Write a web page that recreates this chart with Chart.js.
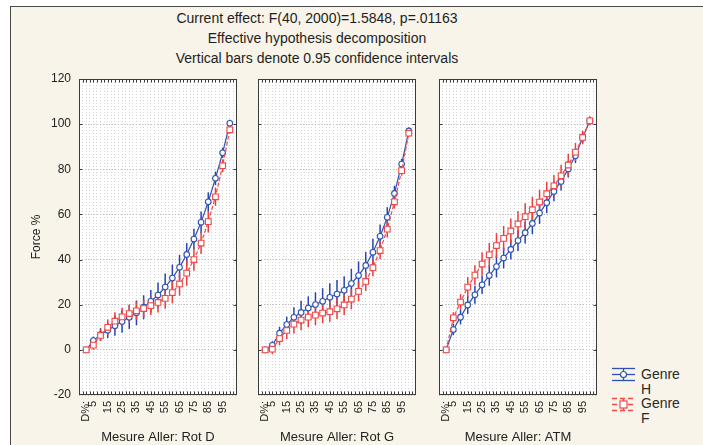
<!DOCTYPE html>
<html>
<head>
<meta charset="utf-8">
<script src="https://cdn.jsdelivr.net/npm/chart.js@4.4.0/dist/chart.umd.min.js"></script>
<style>
html,body{margin:0;padding:0;background:#fff;}
#wrap{position:relative;width:703px;height:445px;overflow:hidden;background:#fff;}
#frame{position:absolute;left:10px;top:6px;width:720px;height:460px;border-left:1px solid #4a4a4a;border-top:1px solid #4a4a4a;background:#f8f4e9;}
.ttl{position:absolute;left:117px;width:400px;text-align:center;font:14px 'Liberation Sans',Arial,sans-serif;color:#1e1e1e;white-space:nowrap;}
canvas{position:absolute;}
.lg{position:absolute;font:14px 'Liberation Sans',Arial,sans-serif;color:#2a2a2a;line-height:15px;white-space:nowrap;}
svg{position:absolute;}
</style>
</head>
<body>
<div id="wrap">
  <div id="frame"></div>
  <div class="ttl" id="t1" style="top:10px"></div>
  <div class="ttl" id="t2" style="top:30px"></div>
  <div class="ttl" id="t3" style="top:50px"></div>
  <canvas id="c1" width="217" height="376" style="left:20px;top:69px"></canvas>
  <canvas id="c2" width="166" height="376" style="left:250px;top:69px"></canvas>
  <canvas id="c3" width="166" height="376" style="left:431px;top:69px"></canvas>
  <svg style="left:611px;top:366px" width="26" height="17">
    <line x1="1" y1="2.5" x2="24" y2="2.5" stroke="#2f53b0" stroke-width="1.3"/>
    <line x1="1" y1="8.5" x2="24" y2="8.5" stroke="#2f53b0" stroke-width="1.3"/>
    <line x1="1" y1="14.5" x2="24" y2="14.5" stroke="#2f53b0" stroke-width="1.3"/>
    <line x1="12.5" y1="2.5" x2="12.5" y2="14.5" stroke="#2f53b0" stroke-width="1.3"/>
    <circle cx="12.5" cy="8.5" r="3" fill="#fff" stroke="#2f53b0" stroke-width="1.2"/>
  </svg>
  <svg style="left:611px;top:396px" width="26" height="17">
    <line x1="1" y1="2.5" x2="24" y2="2.5" stroke="#ef4a4a" stroke-width="1.3" stroke-dasharray="5 3"/>
    <line x1="1" y1="8.5" x2="24" y2="8.5" stroke="#ef4a4a" stroke-width="1.3" stroke-dasharray="5 3"/>
    <line x1="1" y1="14.5" x2="24" y2="14.5" stroke="#ef4a4a" stroke-width="1.3" stroke-dasharray="5 3"/>
    <line x1="12.5" y1="2.5" x2="12.5" y2="14.5" stroke="#ef4a4a" stroke-width="1.3"/>
    <rect x="9" y="5" width="7" height="7" fill="#fff" stroke="#ef4a4a" stroke-width="1.2"/>
  </svg>
  <div class="lg" id="lg1" style="left:641px;top:367px"></div>
  <div class="lg" id="lg2" style="left:641px;top:396px"></div>
</div>
<script>
// ---- texts ----
const titleLines = ['Current effect: F(40, 2000)=1.5848, p=.01163',
                    'Effective hypothesis decomposition',
                    'Vertical bars denote 0.95 confidence intervals'];
const panelTitles = ['Mesure Aller: Rot D', 'Mesure Aller: Rot G', 'Mesure Aller: ATM'];
const seriesNames = [['Genre', 'H'], ['Genre', 'F']];
const yAxisTitle = 'Force %';

// ---- categories and tick labels ----
const categories = [0,5,10,15,20,25,30,35,40,45,50,55,60,65,70,75,80,85,90,95,100];
const xTickValues = [0,5,15,25,35,45,55,65,75,85,95];
const xTickTexts  = ['D%:','5','15','25','35','45','55','65','75','85','95'];

// ---- series values (means) ----
const rotD_H = [0,4.1,6.8,8.7,10.7,12.6,14.5,16.4,18.9,21.5,24.3,27.8,31.8,36.6,42.3,49.1,56.5,65.6,76.0,87.3,100.4];
const rotD_F = [0,2.1,6.4,10.0,12.7,14.6,16.1,17.3,18.3,19.6,21.0,22.8,25.4,29.2,34.0,40.0,47.3,56.8,67.8,81.6,97.5];
const rotG_H = [0,2.0,7.4,11.2,14.4,16.6,18.5,20.1,21.5,23.3,24.7,26.4,29.4,32.9,37.4,43.2,50.3,58.7,69.3,82.3,97.0];
const rotG_F = [0,0.3,5.0,8.6,11.4,13.2,14.5,15.4,16.3,16.9,18.2,19.9,22.5,25.9,30.3,36.4,44.0,53.5,65.6,79.4,96.0];
const atm_H  = [0,9.0,14.5,19.9,24.4,28.8,32.9,36.9,40.7,44.5,48.4,51.9,56.0,60.6,65.2,70.2,74.6,80.1,86.0,94.1,101.5];
const atm_F  = [0,14.2,21.2,27.8,33.1,38.0,42.1,46.2,49.4,52.7,55.8,59.0,62.1,65.5,69.2,72.7,77.1,81.9,87.6,94.1,101.5];

// ---- 0.95 confidence half-widths ----
const rotD_H_ci = [0,1.8,2.8,3.5,4.5,5.0,5.3,5.5,5.3,5.0,5.5,6.0,6.0,5.5,5.0,4.5,4.8,4.2,3.0,2.3,1.5];
const rotD_F_ci = [0,2.0,2.5,3.5,4.0,4.0,4.0,4.0,4.0,4.2,4.4,4.6,4.8,5.2,5.6,5.0,4.8,4.8,4.0,2.8,1.6];
const rotG_H_ci = [0,1.8,2.8,3.5,4.5,5.2,5.2,5.4,5.8,6.2,6.2,6.2,6.5,6.3,6.0,6.0,5.2,4.5,3.4,2.3,1.5];
const rotG_F_ci = [0,2.2,3.0,3.8,4.2,4.5,4.5,4.5,4.5,4.5,4.5,4.5,4.5,4.4,4.2,3.8,3.8,3.7,3.0,2.2,1.5];
const atm_H_ci  = [0,2.5,3.2,4.0,4.0,4.0,4.5,4.8,4.6,4.4,4.6,4.8,4.8,4.8,4.6,4.4,4.0,3.7,3.2,2.5,1.5];
const atm_F_ci  = [0,2.5,3.5,4.5,4.4,5.2,5.3,5.5,5.5,5.5,5.7,5.9,5.7,5.5,5.2,4.8,4.9,5.0,4.0,3.0,2.0];

const FONT = "'Liberation Sans', Arial, sans-serif";
const BLUE = '#2f53b0', BLUE_ERR = '#2444b4';
const RED = '#ef4a4a', RED_ERR = '#ec3c3c';

document.getElementById('t1').textContent = titleLines[0];
document.getElementById('t2').textContent = titleLines[1];
document.getElementById('t3').textContent = titleLines[2];
document.getElementById('lg1').innerHTML = seriesNames[0].join('<br>');
document.getElementById('lg2').innerHTML = seriesNames[1].join('<br>');

const areaPlugin = {
  id: 'areaPlugin',
  beforeDraw(chart) {
    const a = chart.chartArea, ctx = chart.ctx;
    ctx.save();
    ctx.fillStyle = '#ffffff';
    ctx.fillRect(a.left, a.top, a.right - a.left, a.bottom - a.top);
    ctx.restore();
  },
  afterDraw(chart) {
    const a = chart.chartArea, ctx = chart.ctx;
    const L = Math.round(a.left) + 0.5, R = Math.round(a.right) - 0.5;
    const T = Math.round(a.top) + 0.5, B = Math.round(a.bottom) - 0.5;
    ctx.save();
    ctx.strokeStyle = '#3a3a3a';
    ctx.lineWidth = 1;
    ctx.beginPath();
    chart.scales.x.ticks.forEach(t => {
      const px = Math.round(chart.scales.x.getPixelForValue(t.value)) + 0.5;
      if (px <= L + 1 || px >= R - 1) return;
      ctx.moveTo(px, B); ctx.lineTo(px, B - 3);
      ctx.moveTo(px, T); ctx.lineTo(px, T + 3);
    });
    chart.scales.y.ticks.forEach(t => {
      const py = Math.round(chart.scales.y.getPixelForValue(t.value)) + 0.5;
      if (py <= T + 1 || py >= B - 1) return;
      ctx.moveTo(L, py); ctx.lineTo(L + 3, py);
      ctx.moveTo(R, py); ctx.lineTo(R - 3, py);
    });
    ctx.stroke();
    ctx.strokeRect(L, T, R - L, B - T);
    ctx.restore();
  }
};

const errorBarPlugin = {
  id: 'errorBars',
  beforeDatasetsDraw(chart) {
    const {ctx, scales: {x, y}} = chart;
    ctx.save();
    ctx.lineWidth = 1.5;
    chart.data.datasets.forEach(ds => {
      ctx.strokeStyle = ds.errColor;
      ds.data.forEach((pt, i) => {
        const e = ds.ci[i];
        if (!e) return;
        const px = x.getPixelForValue(pt.x);
        ctx.beginPath();
        ctx.moveTo(px, y.getPixelForValue(pt.y - e));
        ctx.lineTo(px, y.getPixelForValue(pt.y + e));
        ctx.stroke();
      });
    });
    ctx.restore();
  }
};

function pts(vals) { return categories.map((c, i) => ({x: c, y: vals[i]})); }

function makePanel(id, title, hVals, hCi, fVals, fCi, showY) {
  const yw = showY ? 59 : 8;
  new Chart(document.getElementById(id), {
    type: 'line',
    data: {
      datasets: [
        {label: seriesNames[0].join(' '), data: pts(hVals), ci: hCi, errColor: BLUE_ERR,
         borderColor: BLUE, borderWidth: 1.2, pointStyle: 'circle', pointRadius: 2.8,
         pointBackgroundColor: '#fff', pointBorderColor: BLUE, pointBorderWidth: 1.1,
         tension: 0, order: 1},
        {label: seriesNames[1].join(' '), data: pts(fVals), ci: fCi, errColor: RED_ERR,
         borderColor: RED, borderWidth: 1.2, borderDash: [4, 2], pointStyle: 'rect', pointRadius: 4,
         pointBackgroundColor: '#fff', pointBorderColor: RED, pointBorderWidth: 1.1,
         tension: 0, order: 0}
      ]
    },
    options: {
      responsive: false, animation: false,
      layout: {padding: {top: 10, left: 0, right: 0, bottom: 0}, autoPadding: false},
      plugins: {legend: {display: false}, tooltip: {enabled: false}},
      scales: {
        x: {
          type: 'linear', min: -5, max: 105,
          ticks: {stepSize: 2.5, autoSkip: false, minRotation: 90, maxRotation: 90, padding: 6,
                  color: '#222', font: {family: FONT, size: 11},
                  callback: v => { const k = xTickValues.indexOf(v); return k >= 0 ? xTickTexts[k] : ''; }},
          grid: {color: '#d6d6d6', lineWidth: 1, drawTicks: false},
          border: {display: false, dash: [1, 2]},
          title: {display: true, text: title, color: '#222', font: {family: FONT, size: 13},
                  padding: {top: 0, bottom: 0}},
          afterFit(s) { s.height = 50; s.paddingLeft = 0; s.paddingRight = 0; }
        },
        y: {
          min: -20, max: 120,
          ticks: {stepSize: 20, display: showY, padding: 8, color: '#222', font: {family: FONT, size: 12}},
          grid: {color: '#bdbdbd', lineWidth: 1, drawTicks: false},
          border: {display: false, dash: [1, 2]},
          title: {display: showY, text: yAxisTitle, color: '#222', font: {family: FONT, size: 12},
                  padding: {top: 9, bottom: 0}},
          afterFit(s) { s.width = yw; s.paddingTop = 0; s.paddingBottom = 0; }
        }
      }
    },
    plugins: [areaPlugin, errorBarPlugin]
  });
}

makePanel('c1', panelTitles[0], rotD_H, rotD_H_ci, rotD_F, rotD_F_ci, true);
makePanel('c2', panelTitles[1], rotG_H, rotG_H_ci, rotG_F, rotG_F_ci, false);
makePanel('c3', panelTitles[2], atm_H, atm_H_ci, atm_F, atm_F_ci, false);
</script>
</body>
</html>
